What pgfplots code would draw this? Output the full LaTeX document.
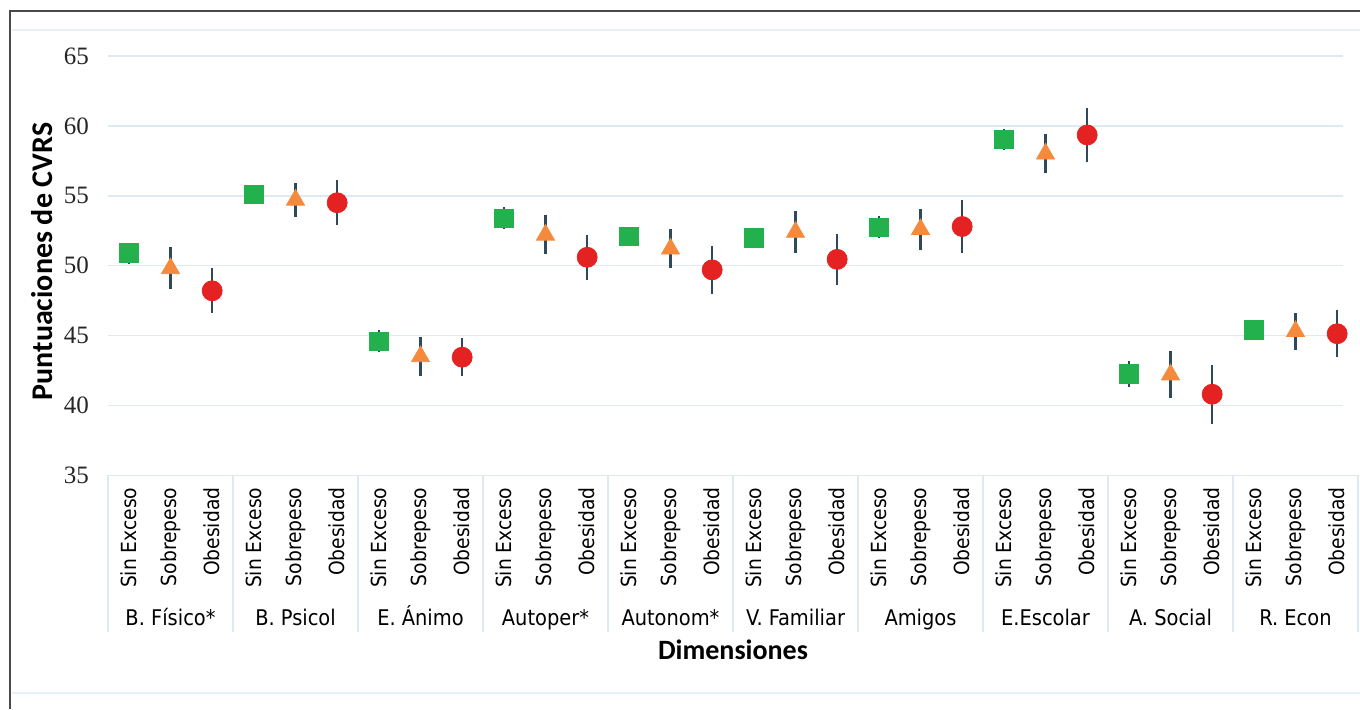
\documentclass[border=0pt]{standalone}
\usepackage{pgfplots}
\pgfplotsset{compat=1.18}
\usepackage{pgfplotstable}
\usepackage{fontspec}
\newfontfamily\catfont{DejaVu Sans Condensed}
\newfontfamily\labfont{Carlito}
\newfontfamily\numfont{Liberation Serif}
\definecolor{cgreen}{HTML}{22B14C}
\definecolor{corange}{HTML}{F58A3D}
\definecolor{cred}{HTML}{E52222}
\definecolor{ebar}{HTML}{2E4A5A}
\definecolor{gridblue}{HTML}{DDEAF2}
\definecolor{frame}{HTML}{4A4A4A}
\tikzset{grplab/.style={font=\catfont\fontsize{10.8}{12}\selectfont, text=black, anchor=base}}

\pgfplotstableread{
x y ep em
0 50.9 0.7 0.8
3 55.1 0.6 0.6
6 44.6 0.8 0.8
9 53.4 0.8 0.8
12 52.1 0.7 0.7
15 52.0 0.7 0.7
18 52.75 0.8 0.8
21 59.05 0.75 0.75
24 42.25 0.95 0.95
27 45.4 0.6 0.6
}\sinexceso
\pgfplotstableread{
x y ep em
1 49.8 1.5 1.5
4 54.7 1.2 1.2
7 43.5 1.4 1.4
10 52.2 1.4 1.4
13 51.2 1.4 1.4
16 52.4 1.5 1.5
19 52.6 1.45 1.45
22 58.0 1.4 1.4
25 42.2 1.7 1.7
28 45.3 1.3 1.3
}\sobrepeso
\pgfplotstableread{
x y ep em
2 48.2 1.6 1.6
5 54.5 1.6 1.6
8 43.45 1.35 1.35
11 50.6 1.6 1.6
14 49.7 1.7 1.7
17 50.45 1.85 1.85
20 52.8 1.9 1.9
23 59.35 1.9 1.9
26 40.8 2.1 2.1
29 45.13 1.7 1.7
}\obesidad

\begin{document}
\begin{tikzpicture}
\path[use as bounding box] (0,0) rectangle (680pt,354.5pt);
% frame
\draw[frame, line width=1pt] (5pt,0) -- (5pt,349pt) -- (680pt,349pt);
\draw[gridblue!70, line width=0.8pt] (6pt,339.5pt) -- (680pt,339.5pt);
\draw[gridblue!70, line width=0.8pt] (6pt,8pt) -- (680pt,8pt);
\begin{axis}[
  at={(54pt,116.85pt)}, anchor=south west,
  scale only axis, width=625pt, height=209.65pt,
  xmin=-0.5, xmax=29.5, ymin=35, ymax=65,
  ytick={35,40,...,65},
  xtick={0,...,29},
  xticklabels={Sin Exceso,Sobrepeso,Obesidad,Sin Exceso,Sobrepeso,Obesidad,Sin Exceso,Sobrepeso,Obesidad,Sin Exceso,Sobrepeso,Obesidad,Sin Exceso,Sobrepeso,Obesidad,Sin Exceso,Sobrepeso,Obesidad,Sin Exceso,Sobrepeso,Obesidad,Sin Exceso,Sobrepeso,Obesidad,Sin Exceso,Sobrepeso,Obesidad,Sin Exceso,Sobrepeso,Obesidad},
  xticklabel style={yshift=-2.6pt, rotate=90, anchor=east, font=\catfont\fontsize{10.4}{12}\selectfont, text=black},
  yticklabel style={xshift=-6pt, font=\numfont\fontsize{12.5}{14}\selectfont, text=black!85},
  /pgf/number format/assume math mode=true,
  axis line style={draw=none},
  major tick length=0pt,
  ylabel={Puntuaciones de CVRS},
  ylabel style={at={(axis description cs:-0.0528,0.51)}, anchor=center, font=\labfont\bfseries\fontsize{15}{17}\selectfont},
  clip=false,
  error bars/y dir=both, error bars/y explicit,
  error bars/error mark=none,
  error bars/error bar style={ebar, line width=1.3pt},
]
% gridlines (stop a little short of the right edge, as in the reference)
\pgfplotsinvokeforeach{40,45,50,55,60,65}{
  \draw[gridblue, line width=0.8pt] (axis cs:-0.5,#1) -- (axis cs:29.14,#1);
}
\draw[gridblue, line width=0.8pt] (axis cs:-0.5,35) -- (axis cs:29.5,35);
% error bars first
\addplot[draw=none, mark=none, forget plot] table[x=x,y=y,y error plus=ep,y error minus=em] {\sinexceso};
\addplot[draw=none, mark=none, forget plot] table[x=x,y=y,y error plus=ep,y error minus=em] {\sobrepeso};
\addplot[draw=none, mark=none, forget plot] table[x=x,y=y,y error plus=ep,y error minus=em] {\obesidad};
% markers
\addplot[only marks, mark=square*, mark size=4.6pt, mark options={fill=cgreen, draw=cgreen}, error bars/y dir=none] table[x=x,y=y] {\sinexceso};
\addplot[only marks, mark=triangle*, mark size=5.2pt, mark options={fill=corange, draw=corange}, error bars/y dir=none] table[x=x,y=y] {\sobrepeso};
\addplot[only marks, mark=*, mark size=5pt, mark options={fill=cred, draw=cred}, error bars/y dir=none] table[x=x,y=y] {\obesidad};
% category box separators
\pgfplotsinvokeforeach{-0.5,2.5,5.5,8.5,11.5,14.5,17.5,20.5,23.5,26.5,29.5}{
  \draw[gridblue, line width=0.8pt] (axis cs:#1,35) -- ([yshift=-78.5pt]axis cs:#1,35);
}
\node[grplab] at ([yshift=-75pt]axis cs:1,35) {B. Físico*};
\node[grplab] at ([yshift=-75pt]axis cs:4,35) {B. Psicol};
\node[grplab] at ([yshift=-75pt]axis cs:7,35) {E. Ánimo};
\node[grplab] at ([yshift=-75pt]axis cs:10,35) {Autoper*};
\node[grplab] at ([yshift=-75pt]axis cs:13,35) {Autonom*};
\node[grplab] at ([yshift=-75pt]axis cs:16,35) {V. Familiar};
\node[grplab] at ([yshift=-75pt]axis cs:19,35) {Amigos};
\node[grplab] at ([yshift=-75pt]axis cs:22,35) {E.Escolar};
\node[grplab] at ([yshift=-75pt]axis cs:25,35) {A. Social};
\node[grplab] at ([yshift=-75pt]axis cs:28,35) {R. Econ};
\node[font=\labfont\bfseries\fontsize{14}{16}\selectfont] at ([yshift=-87.4pt]axis cs:14.5,35) {Dimensiones};
\end{axis}
\end{tikzpicture}
\end{document}
